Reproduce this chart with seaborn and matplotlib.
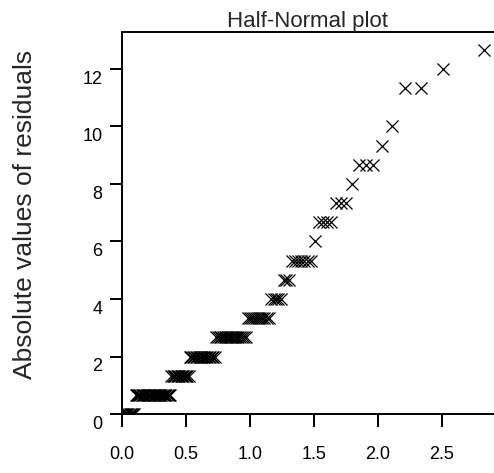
import numpy as np
import pandas as pd
import matplotlib
matplotlib.use("Agg")
import matplotlib.pyplot as plt
import matplotlib.transforms as mtransforms
import seaborn as sns
from statistics import NormalDist

# ---- data ----
residual_levels = [0.0, 0.667, 1.333, 2.0, 2.667, 3.333, 4.0, 4.667, 5.333, 6.0,
                   6.667, 7.333, 8.0, 8.667, 9.333, 10.0, 11.333, 12.0, 12.667]
level_counts = [11, 29, 14, 18, 18, 11, 5, 3, 7, 1, 4, 3, 1, 3, 1, 1, 2, 1, 1]
x_ticks = [0.0, 0.5, 1.0, 1.5, 2.0, 2.5]
x_tick_labels = ["0.0", "0.5", "1.0", "1.5", "2.0", "2.5"]
y_ticks = [0, 2, 4, 6, 8, 10, 12]
y_tick_labels = ["0", "2", "4", "6", "8", "10", "12"]
title_text = "Half-Normal plot"
y_label_text = "Absolute values of residuals"

# sorted absolute residuals and their half-normal quantiles
abs_resid = np.repeat(residual_levels, level_counts)
n = len(abs_resid)
nd = NormalDist()
half_normal_q = [nd.inv_cdf(0.5 + 0.5 * (i - 0.375) / (n + 0.25)) for i in range(1, n + 1)]
df = pd.DataFrame({"quantile": half_normal_q, "residual": abs_resid})

sns.set_style("ticks")
plt.rcParams["font.family"] = ["Liberation Sans", "DejaVu Sans"]

W, H = 494, 473
fig = plt.figure(figsize=(W / 100, H / 100), dpi=100)
ax_left, ax_right, ax_top, ax_bottom = 121.7, 494.0, 32.0, 414.0
ax = fig.add_axes([ax_left / W, 1 - ax_bottom / H, (ax_right - ax_left) / W, (ax_bottom - ax_top) / H])

sns.scatterplot(data=df, x="quantile", y="residual", marker="x", color="black",
                s=75, linewidth=0.9, ax=ax, legend=False)

ax.set_xlim(0, (ax_right - ax_left) / 128.0)
ax.set_ylim(0, (ax_bottom - ax_top) / 28.75)
ax.set_xticks(x_ticks)
ax.set_xticklabels(x_tick_labels)
ax.set_yticks(y_ticks)
ax.set_yticklabels(y_tick_labels)

for side in ["left", "top", "bottom"]:
    ax.spines[side].set_visible(True)
    ax.spines[side].set_linewidth(1.4)
    ax.spines[side].set_color("black")
ax.spines["right"].set_visible(False)

ax.tick_params(axis="both", direction="out", length=9, width=1.4, color="black",
               labelsize=13, labelcolor="black")
ax.tick_params(axis="x", pad=14)
ax.tick_params(axis="y", pad=5)

# labels in the reference sit slightly below their ticks
offset = mtransforms.ScaledTranslation(0, -6 / 72, fig.dpi_scale_trans)
for lab in ax.get_yticklabels():
    lab.set_transform(lab.get_transform() + offset)

ax.set_xlabel("")
ax.set_ylabel(y_label_text, fontsize=19, va="center")
ax.yaxis.set_label_coords((25 - ax_left) / (ax_right - ax_left),
                          (ax_bottom - 214) / (ax_bottom - ax_top))
ax.set_title(title_text, fontsize=16, pad=1)

fig.savefig("out.png", dpi=100)
